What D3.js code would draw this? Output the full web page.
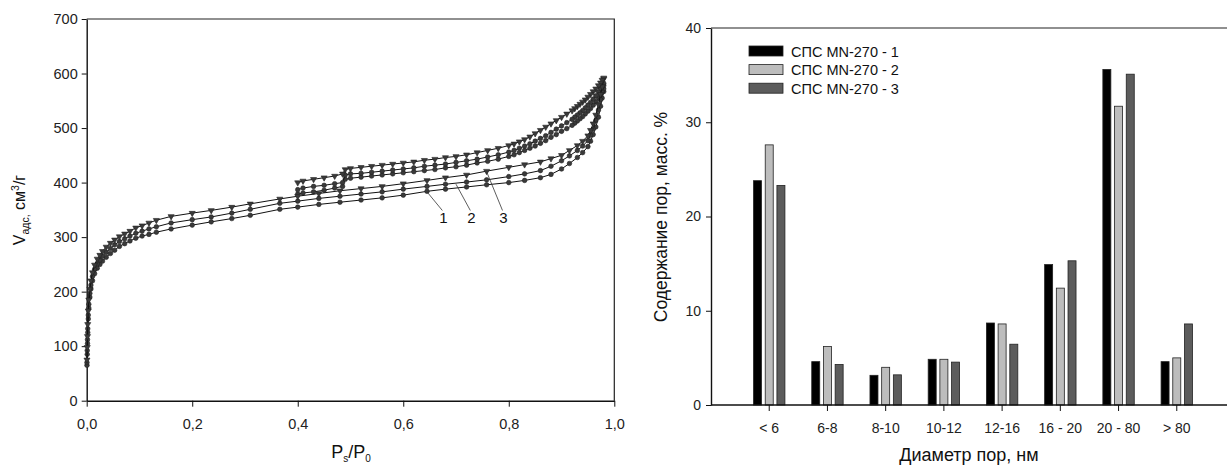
<!DOCTYPE html>
<html>
<head>
<meta charset="utf-8">
<script src="https://cdn.jsdelivr.net/npm/d3@7"></script>
<style>
  html, body { margin: 0; padding: 0; background: #fff; }
  svg { display: block; font-family: "Liberation Sans", Arial, sans-serif; }
  .axis path, .axis line { stroke: #111; }
  .axis text { fill: #222; font-size: 14px; }
</style>
</head>
<body>
<svg id="chart" width="1227" height="466"></svg>
<script>
(function(window) {
    'use strict';

    /******************************************************************
        data: nitrogen isotherms (left)
     ******************************************************************/
    var adsP = [0.0005, 0.001, 0.0015, 0.002, 0.003, 0.004, 0.006, 0.008, 0.011, 0.015,
                0.02, 0.025, 0.03, 0.037, 0.045, 0.053, 0.062, 0.072, 0.082, 0.093,
                0.105, 0.118, 0.132, 0.16, 0.2, 0.236, 0.275, 0.31, 0.366, 0.4,
                0.44, 0.48, 0.52, 0.56, 0.6, 0.645, 0.68, 0.72, 0.758, 0.8,
                0.83, 0.86, 0.88, 0.9, 0.915, 0.93, 0.94, 0.95, 0.955, 0.96,
                0.965, 0.97, 0.974, 0.977, 0.98];
    var ads1 = [65, 85, 105, 125, 150, 170, 190, 205, 220, 233,
                243, 250, 256, 263, 270, 276, 283, 288, 293, 298,
                302, 305, 309, 315, 322, 328, 334, 340, 351, 355,
                360, 364, 368, 372, 377, 384, 388, 392, 396, 400,
                404, 409, 415, 425, 435, 446, 455, 466, 476, 488,
                502, 520, 540, 555, 567];
    var ads2 = [70, 92, 112, 132, 157, 177, 197, 212, 228, 241,
                251, 258, 265, 272, 279, 286, 292, 297, 302, 307,
                311, 315, 319, 326, 332, 337, 344, 351, 362, 366,
                371, 375, 379, 383, 388, 393, 397, 401, 405, 411,
                416, 422, 430, 440, 449, 459, 467, 477, 487, 498,
                514, 533, 552, 566, 578];
    var ads3 = [75, 98, 118, 140, 165, 185, 205, 220, 235, 249,
                260, 267, 274, 282, 289, 295, 301, 306, 311, 317,
                321, 326, 331, 338, 344, 349, 355, 361, 370, 375,
                380, 385, 389, 393, 398, 404, 409, 414, 421, 428,
                433, 438, 444, 450, 459, 468, 476, 486, 496, 508,
                524, 543, 562, 576, 590];

    var desP = [0.98, 0.977, 0.974, 0.97, 0.965, 0.96, 0.955, 0.95, 0.945, 0.94,
                0.935, 0.93, 0.925, 0.92, 0.91, 0.9, 0.89, 0.88, 0.87, 0.86,
                0.85, 0.84, 0.83, 0.82, 0.81, 0.8, 0.78, 0.76, 0.74, 0.72,
                0.7, 0.68, 0.66, 0.64, 0.62, 0.6, 0.58, 0.56, 0.54, 0.52,
                0.5, 0.49, 0.485, 0.47, 0.45, 0.43, 0.41, 0.4];
    var des1 = [572, 566, 561, 555, 548, 542, 536, 531, 526, 521,
                517, 513, 509, 505, 499, 494, 488, 483, 477, 472,
                467, 463, 459, 455, 451, 448, 443, 439, 436, 432,
                429, 427, 424, 422, 420, 418, 416, 414, 412, 410,
                408, 406, 393, 390, 386, 383, 381, 379];
    var des2 = [582, 577, 572, 566, 559, 553, 547, 542, 537, 532,
                528, 524, 520, 516, 510, 504, 498, 492, 486, 481,
                476, 471, 467, 463, 459, 456, 451, 447, 443, 440,
                437, 434, 432, 430, 427, 425, 423, 421, 419, 417,
                416, 414, 400, 398, 395, 393, 390, 387];
    var des3 = [592, 588, 583, 578, 572, 567, 562, 557, 552, 548,
                544, 540, 536, 532, 526, 520, 514, 508, 502, 496,
                490, 484, 479, 475, 471, 468, 463, 459, 455, 451,
                448, 446, 443, 441, 438, 436, 434, 432, 430, 428,
                426, 424, 416, 412, 409, 406, 403, 400];

    var isoTicksX = [0, 0.2, 0.4, 0.6, 0.8, 1.0];
    var isoTickLabelsX = ['0,0', '0,2', '0,4', '0,6', '0,8', '1,0'];
    var isoTicksY = [0, 100, 200, 300, 400, 500, 600, 700];

    // curve number labels: point on the curve and label position, data units
    var curveNotes = [
        { text: '1', p: 0.645, v: 383, lp: 0.676, lv: 325 },
        { text: '2', p: 0.7,   v: 397, lp: 0.729, lv: 325 },
        { text: '3', p: 0.758, v: 420, lp: 0.79,  lv: 325 }
    ];

    /******************************************************************
        data: pore size distribution (right)
     ******************************************************************/
    var poreCats = ['< 6', '6-8', '8-10', '10-12', '12-16', '16 - 20', '20 - 80', '> 80'];
    var poreSeries = ['СПС MN-270 - 1', 'СПС MN-270 - 2', 'СПС MN-270 - 3'];
    var pore1 = [23.8, 4.6, 3.15, 4.85, 8.7, 14.9, 35.6, 4.6];
    var pore2 = [27.6, 6.2, 4.0, 4.85, 8.6, 12.4, 31.7, 5.0];
    var pore3 = [23.3, 4.3, 3.2, 4.55, 6.45, 15.3, 35.1, 8.6];
    var poreTicksY = [0, 10, 20, 30, 40];
    var poreColors = ['#000000', '#bdbdbd', '#5c5c5c'];

    var svg = d3.select('#chart');

    /******************************************************************
        left panel
     ******************************************************************/
    function drawIsotherms() {
        var x = d3.scaleLinear().domain([0, 1]).range([86.7, 614.3]);
        var y = d3.scaleLinear().domain([0, 700]).range([400.7, 19]);
        var g = svg.append('g');

        // frame
        g.append('path')
            .attr('d', 'M' + x(0) + ' ' + y(700) + ' H' + x(1) + ' V' + y(0))
            .attr('fill', 'none')
            .attr('stroke', '#222')
            .attr('stroke-width', 1.2);

        g.append('g').attr('class', 'axis')
            .attr('transform', 'translate(0,' + y(0) + ')')
            .call(d3.axisBottom(x).tickValues(isoTicksX).tickSize(6).tickSizeOuter(0)
                .tickFormat(function(d, i) { return isoTickLabelsX[i]; }))
            .call(function(s) { s.selectAll('text').attr('dy', '1.3em').style('font-size', '14.5px'); })
            .call(function(s) { s.select('.domain').attr('stroke-width', 1.4); });

        g.append('g').attr('class', 'axis')
            .attr('transform', 'translate(' + x(0) + ',0)')
            .call(d3.axisLeft(y).tickValues(isoTicksY).tickSize(5).tickSizeOuter(0))
            .call(function(s) { s.selectAll('text').attr('x', -9).style('font-size', '14.5px'); })
            .call(function(s) { s.select('.domain').attr('stroke-width', 1.4); });

        var curves = [
            { ads: ads1, des: des1, sym: 'circle' },
            { ads: ads2, des: des2, sym: 'circle' },
            { ads: ads3, des: des3, sym: 'tri' }
        ];

        var line = d3.line()
            .x(function(d) { return x(d[0]); })
            .y(function(d) { return y(d[1]); });

        curves.forEach(function(c) {
            var branches = [
                adsP.map(function(p, i) { return [p, c.ads[i]]; }),
                desP.map(function(p, i) { return [p, c.des[i]]; })
            ];
            branches.forEach(function(pts) {
                g.append('path')
                    .datum(pts)
                    .attr('d', line)
                    .attr('fill', 'none')
                    .attr('stroke', '#111')
                    .attr('stroke-width', 1);

                var sel = g.selectAll(null).data(pts).enter();
                if (c.sym === 'circle') {
                    sel.append('circle')
                        .attr('cx', function(d) { return x(d[0]); })
                        .attr('cy', function(d) { return y(d[1]); })
                        .attr('r', 2.3)
                        .attr('fill', '#3a3a3a')
                        .attr('stroke', '#222')
                        .attr('stroke-width', 0.6);
                } else {
                    sel.append('path')
                        .attr('d', d3.symbol().type(d3.symbolTriangle).size(16))
                        .attr('transform', function(d) {
                            return 'translate(' + x(d[0]) + ',' + y(d[1]) + ') rotate(180)';
                        })
                        .attr('fill', '#3a3a3a')
                        .attr('stroke', '#222')
                        .attr('stroke-width', 0.6);
                }
            });
        });

        // curve numbers
        curveNotes.forEach(function(n) {
            g.append('line')
                .attr('x1', x(n.p)).attr('y1', y(n.v))
                .attr('x2', x(n.lp) - 1).attr('y2', y(n.lv) - 13)
                .attr('stroke', '#333').attr('stroke-width', 0.8);
            g.append('text')
                .attr('x', x(n.lp)).attr('y', y(n.lv))
                .attr('text-anchor', 'middle')
                .style('font-size', '15px').attr('fill', '#111')
                .text(n.text);
        });

        // axis titles
        var yt = g.append('text')
            .attr('transform', 'translate(25,210) rotate(-90)')
            .attr('text-anchor', 'middle')
            .style('font-size', '16px').attr('fill', '#111');
        yt.append('tspan').text('V');
        yt.append('tspan').attr('dy', 4).style('font-size', '10.5px').text('адс,');
        yt.append('tspan').attr('dy', -4).text('  см');
        yt.append('tspan').attr('dy', -6).style('font-size', '10.5px').text('3');
        yt.append('tspan').attr('dy', 6).text('/г');

        var xt = g.append('text')
            .attr('x', 351).attr('y', 458)
            .attr('text-anchor', 'middle')
            .style('font-size', '18px').attr('fill', '#111');
        xt.append('tspan').text('P');
        xt.append('tspan').attr('dy', 4).style('font-size', '10px').text('s');
        xt.append('tspan').attr('dy', -4).text('/P');
        xt.append('tspan').attr('dy', 4).style('font-size', '10px').text('0');
    }

    /******************************************************************
        right panel
     ******************************************************************/
    function drawPores() {
        var x0 = d3.scaleBand().domain(poreCats).range([711, 1235])
            .paddingInner(0).paddingOuter(0.5);
        var x1 = d3.scaleBand().domain(poreSeries).range([-15.7, 15.7])
            .paddingInner(0.316).paddingOuter(0);
        var y = d3.scaleLinear().domain([0, 40]).range([405, 28]);
        var g = svg.append('g');
        var values = [pore1, pore2, pore3];

        g.append('line')
            .attr('x1', 711).attr('x2', 1227)
            .attr('y1', y(40)).attr('y2', y(40))
            .attr('stroke', '#222').attr('stroke-width', 1.2);

        poreSeries.forEach(function(s, si) {
            g.selectAll(null)
                .data(poreCats)
                .enter().append('rect')
                .attr('x', function(c) { return x0(c) + x0.bandwidth() / 2 + x1(s); })
                .attr('y', function(c, i) { return y(values[si][i]); })
                .attr('width', x1.bandwidth())
                .attr('height', function(c, i) { return y(0) - y(values[si][i]); })
                .attr('fill', poreColors[si])
                .attr('stroke', '#222')
                .attr('stroke-width', 0.8);
        });

        g.append('g').attr('class', 'axis')
            .attr('transform', 'translate(0,' + y(0) + ')')
            .call(d3.axisBottom(x0).tickSize(6).tickSizeOuter(0))
            .call(function(s) { s.selectAll('text').attr('dy', '1.35em'); })
            .call(function(s) {
                s.select('.domain').attr('d', 'M711,0H1227').attr('stroke-width', 1.4);
            });

        g.append('g').attr('class', 'axis')
            .attr('transform', 'translate(711,0)')
            .call(d3.axisLeft(y).tickValues(poreTicksY).tickSize(5).tickSizeOuter(0))
            .call(function(s) { s.selectAll('text').attr('x', -10); })
            .call(function(s) { s.select('.domain').attr('stroke-width', 1.4); });

        // legend
        var leg = g.append('g');
        poreSeries.forEach(function(s, i) {
            var ly = 46 + i * 18.6;
            leg.append('rect')
                .attr('x', 749).attr('y', ly)
                .attr('width', 34).attr('height', 10)
                .attr('fill', poreColors[i])
                .attr('stroke', '#222').attr('stroke-width', 0.8);
            leg.append('text')
                .attr('x', 791).attr('y', ly + 10.5)
                .style('font-size', '14.5px').attr('fill', '#111')
                .text(s);
        });

        g.append('text')
            .attr('transform', 'translate(667,217) rotate(-90)')
            .attr('text-anchor', 'middle')
            .style('font-size', '17.5px').attr('fill', '#111')
            .text('Содержание пор, масс. %');

        g.append('text')
            .attr('x', 969).attr('y', 461)
            .attr('text-anchor', 'middle')
            .style('font-size', '18px').attr('fill', '#111')
            .text('Диаметр пор, нм');
    }

    drawIsotherms();
    drawPores();
})(window);
</script>
</body>
</html>
